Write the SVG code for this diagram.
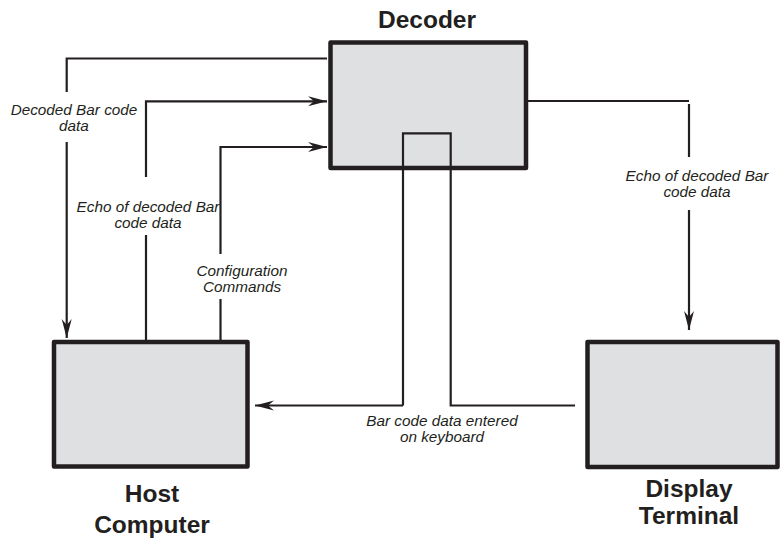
<svg xmlns="http://www.w3.org/2000/svg" width="780" height="539" viewBox="0 0 780 539">
<style>
.box{fill:#dfe0e2;stroke:#231f20;stroke-width:4.5;stroke-linejoin:round}
.ln{fill:none;stroke:#231f20;stroke-width:2.2}
.title{font-family:"Liberation Sans",Arial,sans-serif;font-weight:bold;font-size:24.5px;fill:#231f20;text-anchor:middle}
.lbl{font-family:"Liberation Sans",Arial,sans-serif;font-style:italic;font-size:15.3px;fill:#231f20;text-anchor:middle}
</style>
<defs>
<marker id="arr" markerUnits="userSpaceOnUse" markerWidth="20" markerHeight="12" viewBox="-19 -6 20 12" refX="0" refY="0" orient="auto">
<path d="M0,0 L-19,-5 L-13,0 L-19,5 Z" fill="#231f20"/>
</marker>
</defs>
<rect width="780" height="539" fill="#ffffff"/>
<g id="decoder">
<rect class="box" x="330.5" y="42.5" width="195.5" height="125.5"/>
<text class="title" x="427" y="28">Decoder</text>
</g>
<g id="host">
<rect class="box" x="54" y="342" width="193.5" height="124.5"/>
<text class="title" x="152" y="502">Host</text>
<text class="title" x="152" y="533">Computer</text>
</g>
<g id="display">
<rect class="box" x="587.5" y="342" width="190" height="125"/>
<text class="title" x="689" y="497">Display</text>
<text class="title" x="689" y="524">Terminal</text>
</g>
<g id="connectors">
<path class="ln" d="M327,58.5 H66.7 V92"/>
<path class="ln" d="M66.7,142 V338" marker-end="url(#arr)"/>
<path class="ln" d="M146,340 V235"/>
<path class="ln" d="M146,177 V101.3 H327" marker-end="url(#arr)"/>
<path class="ln" d="M220.5,340 V299"/>
<path class="ln" d="M220.5,254 V147 H327" marker-end="url(#arr)"/>
<path class="ln" d="M528,101 H689"/>
<path class="ln" d="M689,104 V157"/>
<path class="ln" d="M689,210 V330" marker-end="url(#arr)"/>
<path class="ln" d="M403,405.5 V133.3 H450.7 V405.5 H575"/>
<path class="ln" d="M403,405.5 H255" marker-end="url(#arr)"/>
</g>
<g id="labels">
<text class="lbl" x="74" y="115">Decoded Bar code</text>
<text class="lbl" x="74" y="131">data</text>
<text class="lbl" x="148" y="212">Echo of decoded Bar</text>
<text class="lbl" x="148" y="228">code data</text>
<text class="lbl" x="242" y="276">Configuration</text>
<text class="lbl" x="242" y="292">Commands</text>
<text class="lbl" x="697" y="181">Echo of decoded Bar</text>
<text class="lbl" x="697" y="197">code data</text>
<text class="lbl" x="442" y="426">Bar code data entered</text>
<text class="lbl" x="442" y="442">on keyboard</text>
</g>
</svg>
